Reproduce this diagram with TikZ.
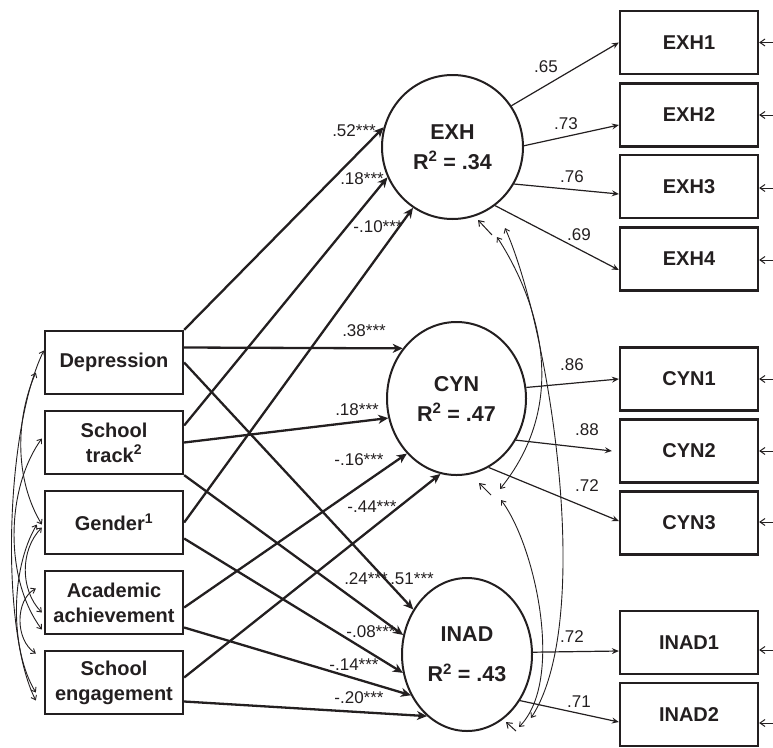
\documentclass[tikz,border=0pt]{standalone}
\usepackage{fontspec}
\setmainfont{Liberation Sans}
\usetikzlibrary{arrows.meta,shapes.geometric}
\begin{document}
\begin{tikzpicture}[
	x=1pt, y=-1pt,
	obs/.style={draw=ink, line width=2.3pt, rectangle, minimum width=138pt, minimum height=63pt, inner sep=0pt, align=center, font=\fontsize{20}{25}\selectfont\bfseries, text=ink},
	lat/.style={draw=ink, line width=2pt, ellipse, inner sep=0pt, align=center, font=\fontsize{21.5}{30}\selectfont\bfseries, text=ink},
	reg/.style={draw=ink, line width=2.3pt, -{Stealth[length=10pt,width=9pt,inset=3pt]}},
	load/.style={draw=ink, line width=1.2pt, -{Stealth[length=7pt,width=6pt,inset=2.5pt]}},
	cov/.style={draw=ink, line width=0.9pt, {Straight Barb[length=4pt,width=6pt]}-{Straight Barb[length=4pt,width=6pt]}},
	res/.style={draw=ink, line width=1pt, -{Straight Barb[length=5pt,width=7pt]}},
	coef/.style={font=\fontsize{17}{17}\selectfont, text=ink, inner sep=0pt}
	]
	% Define colors
	\definecolor{ink}{RGB}{35,31,32}
	\useasboundingbox (0,0) rectangle (773,747);
	
	% Predictors
	\node[obs] (dep) at (114,362.5) {Depression};
	\node[obs] (track) at (114,442.5) {School\\track\textsuperscript{2}};
	\node[obs] (gender) at (114,522.5) {Gender\textsuperscript{1}};
	\node[obs] (acad) at (114,602.5) {Academic\\achievement};
	\node[obs] (eng) at (114,682.5) {School\\engagement};
	
	% Burnout factors
	\node[lat, minimum width=141pt, minimum height=144pt] (exh) at (452.5,147) {EXH\\R\textsuperscript{2} = .34};
	\node[lat, minimum width=139pt, minimum height=153pt] (cyn) at (456.5,398.5) {CYN\\R\textsuperscript{2} = .47};
	\node[lat, minimum width=130pt, minimum height=153pt] (inad) at (467,654.5) {INAD\\[10pt]R\textsuperscript{2} = .43};
	
	% Indicators
	\foreach \n/\t/\y in {exh1/EXH1/42.5, exh2/EXH2/115, exh3/EXH3/186.5, exh4/EXH4/259,
		cyn1/CYN1/379, cyn2/CYN2/451, cyn3/CYN3/523, inad1/INAD1/642.5, inad2/INAD2/714.5}
		\node[obs] (\n) at (689,\y) {\t};
	
	% Error terms of indicators
	\foreach \n/\s in {exh1/0, exh2/0, exh3/-1.5, exh4/-1, cyn1/0, cyn2/0, cyn3/1, inad1/-7.5, inad2/-8.5}
		\draw[res] ([xshift=15pt,yshift=\s pt]\n.east) -- ([yshift=\s pt]\n.east);
	
	% Structural paths
	\draw[reg] (dep.north east) -- (exh.164);
	\draw[reg] ([yshift=15pt]dep.east) -- (cyn.137);
	\draw[reg] (dep.east) -- (inad.140);
	\draw[reg] ([yshift=17pt]track.east) -- (exh.205);
	\draw[reg] (track.east) -- (cyn.196);
	\draw[reg] (track.south east) -- (inad.163);
	\draw[reg] (gender.east) -- (exh.237);
	\draw[reg] ([yshift=-16pt]gender.east) -- (inad.196);
	\draw[reg] ([yshift=-5pt]acad.east) -- (cyn.228);
	\draw[reg] ([yshift=-25pt]acad.east) -- (inad.216);
	\draw[reg] ([yshift=5pt]eng.east) -- (cyn.258);
	\draw[reg] ([yshift=-19pt]eng.east) -- (inad.237);
	
	% Loadings
	\draw[load] (exh.35) -- (exh1.west);
	\draw[load] (exh.1) -- ([yshift=-10pt]exh2.west);
	\draw[load] (exh.-31) -- ([yshift=-7.5pt]exh3.west);
	\draw[load] (exh.-54) -- ([yshift=-11pt]exh4.west);
	\draw[load] (cyn.9) -- (cyn1.west);
	\draw[load] (cyn.-35) -- ([xshift=-7pt]cyn2.west);
	\draw[load] (cyn.-65) -- ([yshift=2pt]cyn3.west);
	\draw[load] (inad.2) -- ([yshift=-8.5pt]inad1.west);
	\draw[load] (inad.-41) -- ([yshift=-7.5pt]inad2.west);
	
	% Disturbances
	\coordinate (dexh) at (492,235);
	\coordinate (dcyn) at (491,495);
	\coordinate (dinad) at (516,731);
	\draw[res] (dexh) -- ++(-14,-15);
	\draw[res] (dcyn) -- ++(-12,-12);
	\draw[res] (dinad) -- ++(-10,-9);
	
	% Correlated disturbances
	\coordinate (ecA) at (497,237);
	\coordinate (ccA) at (500,489);
	\coordinate (ecB) at (505,228);
	\coordinate (icB) at (531,718);
	\coordinate (ccC) at (501,500);
	\coordinate (icC) at (519,727);
	\draw[cov] (ecA) .. controls (525,280) and (580,390) .. (ccA);
	\draw[cov] (ecB) .. controls (550,330) and (595,620) .. (icB);
	\draw[cov] (ccC) .. controls (535,545) and (565,680) .. (icC);
	
	% Correlated predictors
	\draw[cov] ([yshift=12pt]dep.west) .. controls (5,430) and (0,630) .. ([xshift=-8pt,yshift=-18pt]eng.west);
	\draw[cov] ([xshift=-8pt,yshift=-10pt]dep.west) .. controls (15,420) and (15,480) .. ([xshift=-2pt,yshift=-2pt]gender.west);
	\draw[cov] ([xshift=-2pt,yshift=4pt]track.west) .. controls (5,490) and (5,580) .. ([xshift=-2pt,yshift=-27pt]acad.west);
	\draw[cov] ([xshift=-7pt,yshift=-2pt]gender.west) .. controls (10,570) and (10,650) .. ([xshift=-8pt,yshift=-10pt]eng.west);
	\draw[cov] ([xshift=-2pt,yshift=-5pt]gender.west) .. controls (20,550) and (20,590) .. ([xshift=-2pt,yshift=-10pt]acad.west);
	\draw[cov] ([xshift=-8pt,yshift=14pt]acad.west) .. controls (15,600) and (15,640) .. ([xshift=-8pt,yshift=29pt]eng.west);
	
	% Path coefficients
	\node[coef] (b52) at (354,131) {.52***};
	\node[coef] (b18e) at (362,179) {.18***};
	\node[coef] (b10) at (378,227) {-.10***};
	\node[coef] (b38) at (364,331) {.38***};
	\node[coef] (b18c) at (357,410) {.18***};
	\node[coef] (b16) at (359,460) {-.16***};
	\node[coef] (b44) at (372,507) {-.44***};
	\node[coef] (b24) at (366,579) {.24***};
	\node[coef] (b51) at (412,579) {.51***};
	\node[coef] (b08) at (371,632) {-.08***};
	\node[coef] (b14) at (354,665) {-.14***};
	\node[coef] (b20) at (359,698) {-.20***};
	
	% Loading values
	\node[coef] (l65) at (546,67) {.65};
	\node[coef] (l73) at (566,124) {.73};
	\node[coef] (l76) at (572,177) {.76};
	\node[coef] (l69) at (579,235) {.69};
	\node[coef] (l86) at (572,365) {.86};
	\node[coef] (l88) at (587,430) {.88};
	\node[coef] (l72c) at (587,486) {.72};
	\node[coef] (l72i) at (572,637) {.72};
	\node[coef] (l71) at (579,702) {.71};
\end{tikzpicture}
\end{document}
